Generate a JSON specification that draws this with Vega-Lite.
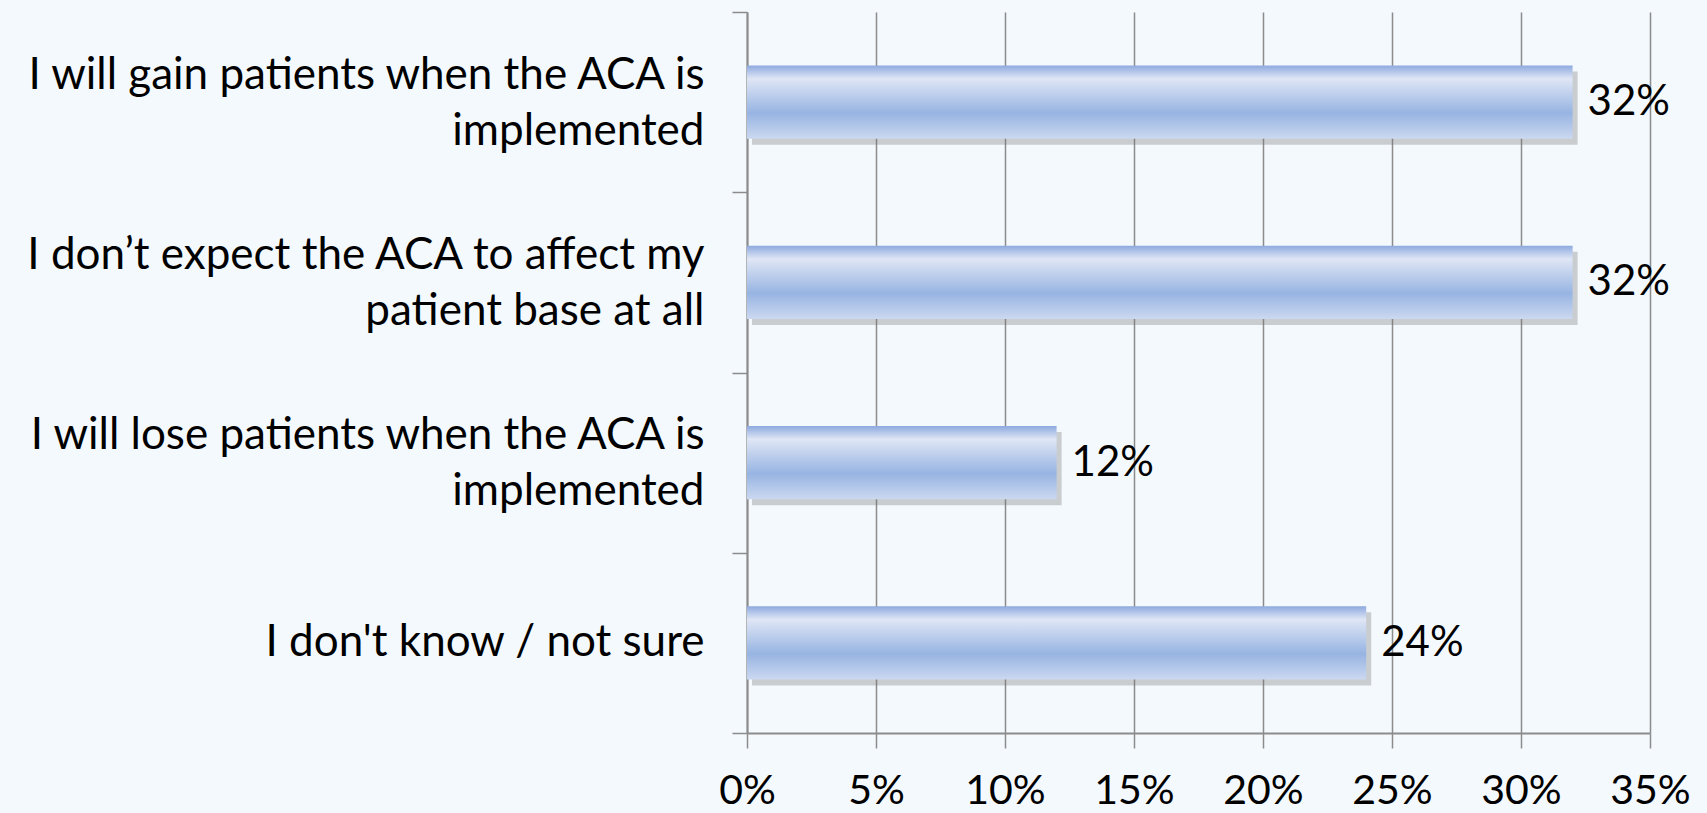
{
  "$schema": "https://vega.github.io/schema/vega-lite/v6.json",
  "autosize": {"type": "none"},
  "width": 903,
  "height": 721,
  "padding": {"left": 747, "top": 12, "right": 57, "bottom": 80},
  "background": "#f4f9fd",
  "config": {"view": {"stroke": null}, "font": "Lato"},
  "data": {
    "values": [
      {"answer": "I will gain patients when the ACA is|implemented", "share": 0.32, "label": "32%"},
      {"answer": "I don’t expect the ACA to affect my|patient base at all", "share": 0.32, "label": "32%"},
      {"answer": "I will lose patients when the ACA is|implemented", "share": 0.12, "label": "12%"},
      {"answer": "I don't know / not sure", "share": 0.24, "label": "24%"}
    ]
  },
  "encoding": {
    "y": {
      "field": "answer", "type": "nominal", "sort": null,
      "scale": {"paddingInner": 0, "paddingOuter": 0},
      "axis": {
        "title": null,
        "labelExpr": "split(datum.label, '|')",
        "labelFontSize": 44,
        "labelFont": "Lato",
        "labelColor": "#000000",
        "labelLineHeight": 56,
        "labelPadding": 28,
        "labelLimit": 800,
        "labelOffset": {"condition": {"test": "indexof(datum.label, '|') >= 0", "value": -27}, "value": 0},
        "tickBand": "extent",
        "tickSize": 15,
        "tickColor": "#8c8c8c",
        "tickWidth": 1.5,
        "domainColor": "#8c8c8c",
        "domainWidth": 2,
        "grid": false
      }
    },
    "x": {
      "field": "share", "type": "quantitative",
      "scale": {"domain": [0, 0.35], "nice": false},
      "axis": {
        "title": null,
        "format": ".0%",
        "values": [0, 0.05, 0.1, 0.15, 0.2, 0.25, 0.3, 0.35],
        "labelFontSize": 41,
        "labelFont": "Lato",
        "labelColor": "#000000",
        "labelPadding": 23,
        "labelFlush": false,
        "tickSize": 15,
        "tickColor": "#8c8c8c",
        "tickWidth": 1.5,
        "domainColor": "#8c8c8c",
        "domainWidth": 2,
        "grid": true,
        "gridColor": "#8c8c8c",
        "gridWidth": 1.5
      }
    }
  },
  "layer": [
    {
      "mark": {"type": "bar", "color": "#6f6f6f", "opacity": 0.32, "xOffset": 5, "yOffset": 6, "height": {"band": 0.405}}
    },
    {
      "mark": {
        "type": "bar",
        "height": {"band": 0.405},
        "fill": {
          "gradient": "linear", "x1": 0, "y1": 0, "x2": 0, "y2": 1,
          "stops": [
            {"offset": 0, "color": "#8eaadf"},
            {"offset": 0.18, "color": "#dfe6f5"},
            {"offset": 0.65, "color": "#97b4e2"},
            {"offset": 1, "color": "#cbd8f0"}
          ]
        }
      }
    },
    {
      "mark": {"type": "text", "align": "left", "baseline": "middle", "dx": 15, "fontSize": 42, "font": "Lato", "color": "#000000"},
      "encoding": {"text": {"field": "label"}}
    }
  ]
}
